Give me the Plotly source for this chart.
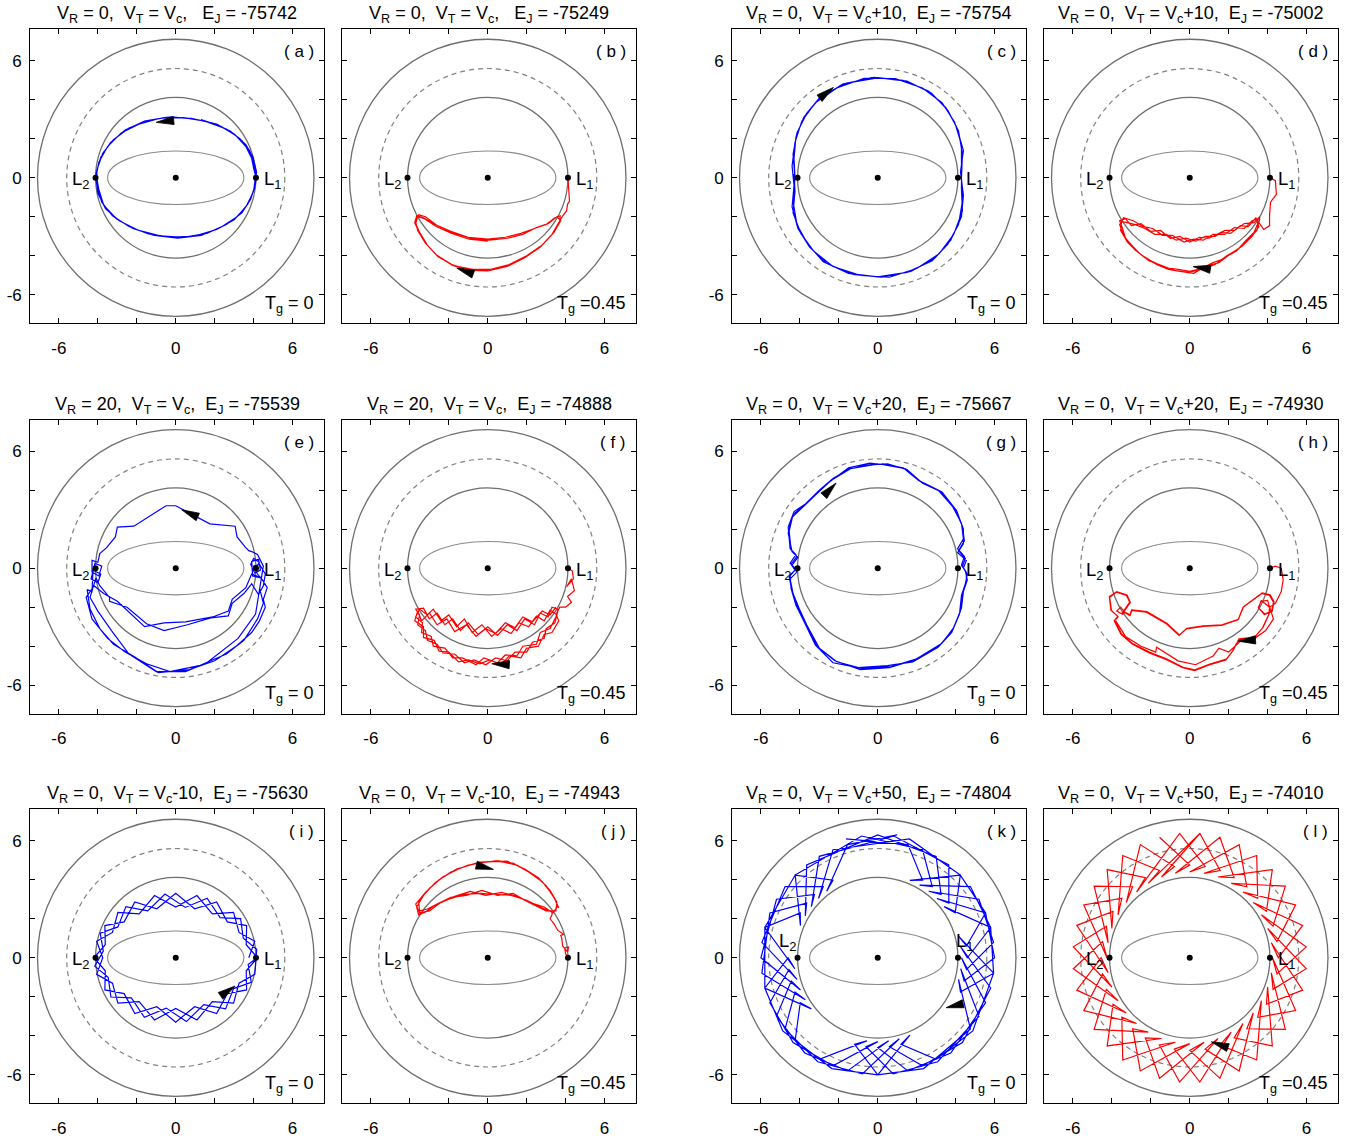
import numpy as np
import plotly.graph_objects as go

FONT = "Liberation Sans, Arial, Helvetica, sans-serif"
PAGE_W, PAGE_H = 1348, 1141

# ---------------- panel meta data ----------------
PANEL_IDS = list("abcdefghijkl")
V_R = ["0", "0", "0", "0", "20", "20", "0", "0", "0", "0", "0", "0"]
V_T = ["", "", "+10", "+10", "", "", "+20", "+20", "-10", "-10", "+50", "+50"]
E_J = ["-75742", "-75249", "-75754", "-75002", "-75539", "-74888",
       "-75667", "-74930", "-75630", "-74943", "-74804", "-74010"]
T_G = ["= 0", "=0.45"] * 6
TRACK_COLOR = ["rgb(0,0,255)", "rgb(255,0,0)"] * 6

MAJOR_TICKS = [-6, 0, 6]
MAJOR_TEXT = ["-6", "0", "6"]
MINOR_TICKS = [-4, -2, 2, 4]

# special points: centre, L1, L2
PT_X = [0.0, 4.12, -4.12]
PT_Y = [0.0, 0.0, 0.0]

# ---------------- trajectories (x, y) ----------------
TRAJ_A = [
    (4.1, 0.0), (4.05, 0.7), (3.8, 1.4), (3.3, 2.0), (2.6, 2.5), (1.5, 2.9), (0.4, 3.08), (-0.8, 3.05),
    (-1.9, 2.75), (-2.8, 2.3), (-3.5, 1.6), (-3.95, 0.8), (-4.1, 0.0), (-4.0, -0.8), (-3.6, -1.6),
    (-2.9, -2.2), (-1.9, -2.7), (-0.8, -2.98), (0.4, -3.05), (1.6, -2.85), (2.6, -2.4), (3.4, -1.8),
    (3.85, -1.1), (4.1, -0.3),
    (4.15, 0.3), (3.95, 1.1), (3.6, 1.7), (3.0, 2.25), (2.1, 2.75), (1.0, 3.0), (-0.2, 3.12), (-1.4, 2.95),
    (-2.4, 2.55), (-3.2, 1.95), (-3.75, 1.25), (-4.05, 0.4), (-4.05, -0.4), (-3.8, -1.25), (-3.25, -1.95),
    (-2.4, -2.5), (-1.4, -2.88), (-0.2, -3.05), (1.0, -2.98), (2.1, -2.65), (3.0, -2.15), (3.6, -1.5),
    (4.0, -0.7), (4.1, 0.1),
    (4.0, 0.5), (3.85, 1.25), (3.4, 1.9), (2.8, 2.4), (1.9, 2.8), (0.8, 3.05), (-0.5, 3.1), (-1.6, 2.9),
    (-2.6, 2.45), (-3.35, 1.8), (-3.85, 1.05), (-4.1, 0.2), (-3.95, -0.6), (-3.7, -1.4), (-3.05, -2.1),
    (-2.2, -2.6), (-1.1, -2.95), (0.1, -3.1), (1.3, -2.95), (2.3, -2.55), (3.15, -2.0), (3.7, -1.35),
    (4.05, -0.55), (4.1, 0.2), (3.95, 0.9), (3.6, 1.6), (3.1, 2.15), (2.3, 2.65), (1.3, 2.98),
]

TRAJ_B = [
    (4.12, 0.0), (4.15, -0.5), (4.2, -1.2), (4.1, -1.35), (4.05, -1.7), (3.85, -1.95),
    (3.65, -2.3), (3.3, -2.9), (2.7, -3.55), (1.9, -4.1), (1.0, -4.55), (0.0, -4.78), (-0.9, -4.75),
    (-1.8, -4.5), (-2.6, -4.0), (-3.15, -3.4), (-3.55, -2.75), (-3.75, -2.3), (-3.65, -1.95),
    (-3.3, -2.05), (-2.7, -2.4), (-1.9, -2.75), (-1.0, -3.05), (0.0, -3.15), (0.9, -3.05), (1.7, -2.85),
    (2.4, -2.6), (3.0, -2.4), (3.45, -2.05), (3.72, -1.95),
    (3.7, -2.25), (3.35, -2.85), (2.75, -3.5), (1.95, -4.05), (1.05, -4.5), (0.05, -4.75), (-0.95, -4.72),
    (-1.85, -4.45), (-2.65, -3.95), (-3.2, -3.35), (-3.6, -2.7), (-3.7, -2.25), (-3.55, -1.9),
    (-3.2, -2.0), (-2.6, -2.45), (-1.8, -2.8), (-0.9, -3.1), (0.1, -3.2), (1.0, -3.1), (1.8, -2.9),
    (2.5, -2.55), (3.1, -2.35), (3.55, -2.0),
    (3.75, -2.2), (3.4, -2.8), (2.8, -3.45), (2.0, -4.0), (1.1, -4.45), (0.1, -4.7), (-0.8, -4.7),
    (-1.75, -4.5), (-2.55, -4.05), (-3.1, -3.45), (-3.5, -2.8), (-3.7, -2.35), (-3.6, -2.0),
    (-3.25, -2.1), (-2.65, -2.5), (-1.85, -2.85), (-0.95, -3.15), (0.0, -3.25),
]

TRAJ_C = [
    (-4.25, 0.0), (-4.35, 1.2), (-4.15, 2.3), (-3.65, 3.3), (-2.9, 4.2), (-1.6, 4.85), (0.0, 5.12),
    (1.5, 4.95), (2.75, 4.35), (3.6, 3.45), (4.15, 2.4), (4.35, 1.2), (4.3, 0.0), (4.35, -1.2),
    (4.15, -2.4), (3.6, -3.4), (2.8, -4.25), (1.5, -4.85), (0.0, -5.08), (-1.5, -4.9), (-2.8, -4.3),
    (-3.6, -3.4), (-4.15, -2.4), (-4.35, -1.2), (-4.25, 0.0),
    (-4.3, 1.0), (-4.2, 2.1), (-3.8, 3.1), (-3.05, 4.0), (-1.8, 4.8), (-0.2, 5.15), (1.3, 5.0),
    (2.6, 4.45), (3.5, 3.6), (4.05, 2.6), (4.4, 1.4), (4.25, 0.3), (4.4, -0.9), (4.3, -2.0),
    (3.75, -3.2), (2.95, -4.1), (1.7, -4.8), (0.2, -5.1), (-1.3, -4.95), (-2.6, -4.4), (-3.5, -3.55),
    (-4.1, -2.6), (-4.4, -1.5), (-4.3, -0.4),
    (-4.4, 0.6), (-4.25, 1.8), (-3.9, 2.9), (-3.2, 3.85), (-2.1, 4.6), (-0.7, 5.1), (0.9, 5.08),
    (2.3, 4.6), (3.3, 3.85), (3.95, 2.85), (4.3, 1.7), (4.3, 0.6), (4.3, -0.6), (4.35, -1.7),
    (3.9, -2.9), (3.15, -3.9), (2.0, -4.65), (0.6, -5.1), (-0.9, -5.0), (-2.3, -4.55), (-3.3, -3.75),
    (-3.95, -2.85), (-4.35, -1.8), (-4.25, -0.7), (-4.3, 0.2),
]

TRAJ_D = [
    (4.12, 0.0), (4.4, -0.15), (4.45, -0.85), (4.15, -1.25), (4.1, -1.9), (4.1, -2.45), (3.8, -2.65),
    (3.55, -2.3), (3.6, -2.1),
    (3.3, -2.8), (2.9, -3.2), (2.4, -3.75), (1.6, -4.2), (1.2, -4.35), (0.6, -4.65), (0.0, -4.8),
    (-0.6, -4.7), (-1.3, -4.6), (-1.9, -4.3), (-2.5, -3.95), (-2.9, -3.55), (-3.3, -3.1), (-3.45, -2.6),
    (-3.6, -2.2), (-3.3, -2.1), (-3.0, -2.45), (-2.5, -2.35), (-2.0, -2.75), (-1.5, -2.7), (-1.0, -3.1),
    (-0.5, -3.0), (0.0, -3.3), (0.5, -3.05), (1.0, -3.1), (1.6, -2.8), (2.1, -2.85), (2.6, -2.45),
    (3.0, -2.5), (3.4, -2.05),
    (3.55, -2.5), (3.2, -3.0), (2.7, -3.5), (2.1, -3.9), (1.5, -4.35), (0.8, -4.55), (0.2, -4.9),
    (-0.5, -4.8), (-1.1, -4.7), (-1.7, -4.45), (-2.3, -4.1), (-2.8, -3.7), (-3.2, -3.3), (-3.55, -2.7),
    (-3.5, -2.25), (-3.2, -2.3), (-2.8, -2.4), (-2.3, -2.6), (-1.8, -2.9), (-1.2, -2.9), (-0.7, -3.2),
    (-0.2, -3.1), (0.3, -3.25), (0.8, -3.0), (1.3, -3.0), (1.8, -2.7), (2.3, -2.7), (2.8, -2.35),
    (3.3, -2.3), (3.6, -2.0),
    (3.45, -2.7), (3.0, -3.15), (2.5, -3.65), (1.9, -4.0), (1.3, -4.45), (0.6, -4.7), (-0.1, -4.85),
    (-0.8, -4.75), (-1.5, -4.5), (-2.1, -4.25), (-2.6, -3.85), (-3.05, -3.4), (-3.4, -2.95),
    (-3.6, -2.4), (-3.4, -2.05), (-2.9, -2.2), (-2.4, -2.5), (-1.9, -2.6), (-1.4, -2.95), (-0.9, -2.95),
    (-0.3, -3.3), (0.2, -3.15), (0.7, -3.2), (1.2, -2.9), (1.8, -2.9), (2.3, -2.55), (2.8, -2.6),
    (3.2, -2.2), (3.5, -2.1),
]

TRAJ_E = [
    (4.1, 0.0), (4.3, 0.3), (4.0, 0.5), (3.85, 0.2), (4.05, -0.25), (4.35, -0.1), (4.25, 0.45),
    (3.9, 0.35), (3.95, -0.4), (4.4, -0.5), (4.5, 0.1), (4.2, 0.7), (3.9, 0.85),
    (3.75, 0.9), (3.55, 1.1), (3.15, 1.6), (3.05, 2.15), (1.75, 2.27), (0.0, 3.2), (-0.5, 3.2),
    (-2.15, 2.15), (-3.0, 2.1), (-3.1, 1.6), (-3.55, 1.05), (-3.9, 0.75), (-4.0, 0.3),
    (-4.3, 0.4), (-4.3, -0.2), (-3.95, -0.4), (-3.8, 0.1), (-4.15, 0.25), (-4.35, -0.55), (-4.0, -0.75),
    (-3.85, -0.3), (-4.25, -0.1), (-4.3, -1.2),
    (-4.55, -1.1), (-4.4, -2.1), (-3.9, -3.1), (-3.2, -3.9), (-2.1, -4.55), (-0.9, -5.35), (0.7, -5.2),
    (2.0, -4.75), (3.1, -4.0), (3.9, -3.3), (4.3, -2.7), (4.6, -2.0), (4.5, -1.6), (4.7, -1.0),
    (4.45, -0.6), (4.2, -0.3), (4.0, 0.1), (4.3, 0.2), (4.6, -0.3), (4.5, -0.9), (4.25, -1.35),
    (3.9, -0.8), (3.5, -1.3), (2.9, -1.8), (2.7, -2.45), (1.8, -2.55), (0.6, -2.9), (-0.6, -3.2),
    (-1.5, -2.85), (-2.5, -2.0), (-3.4, -1.7), (-3.4, -1.5), (-3.9, -0.9), (-4.1, -0.5),
    (-4.4, -1.5), (-4.0, -2.2), (-3.3, -3.2), (-2.4, -4.4), (-1.0, -5.3), (0.5, -5.3), (1.6, -4.85),
    (3.2, -3.6), (4.1, -2.35), (4.3, -1.2), (4.4, -0.5), (3.9, -0.3),
    (3.6, -1.0), (2.9, -1.6), (2.7, -2.2), (1.9, -2.5), (0.5, -2.75), (-0.6, -2.8), (-1.6, -3.0),
    (-3.0, -1.7), (-3.7, -1.3), (-4.2, -0.9), (-4.6, -1.5), (-4.3, -2.6), (-3.5, -3.6), (-2.6, -4.3),
    (-1.5, -4.9), (-0.3, -5.3), (1.2, -5.0), (2.6, -4.4), (3.5, -3.7), (4.2, -2.6), (4.5, -1.8),
    (4.3, -1.0),
]

TRAJ_F = [
    (4.12, 0.0), (4.35, -0.15), (4.4, -0.55), (4.05, -0.95), (4.3, -0.55), (4.45, -1.15), (4.1, -1.45),
    (4.3, -1.75), (4.0, -2.0), (3.7, -2.0),
    (3.6, -2.2), (3.45, -2.8), (3.0, -3.1), (2.9, -3.6), (2.3, -3.8), (2.0, -4.3), (1.4, -4.3),
    (1.0, -4.75), (0.4, -4.6), (-0.1, -4.95), (-0.7, -4.7), (-1.2, -4.85), (-1.7, -4.4), (-2.3, -4.35),
    (-2.6, -3.9), (-3.1, -3.7), (-3.2, -3.2), (-3.6, -2.9), (-3.5, -2.4), (-3.7, -2.1),
    (-3.3, -2.05), (-3.0, -2.6), (-2.6, -2.3), (-2.2, -2.9), (-1.8, -2.6), (-1.4, -3.2), (-1.0, -2.8),
    (-0.5, -3.4), (0.0, -3.0), (0.5, -3.45), (1.0, -2.9), (1.5, -3.2), (1.9, -2.6), (2.4, -2.9),
    (2.7, -2.3), (3.1, -2.5), (3.3, -2.0), (3.6, -2.1),
    (3.5, -2.5), (3.2, -3.1), (2.7, -3.3), (2.5, -3.9), (1.8, -4.0), (1.5, -4.5), (0.9, -4.45),
    (0.5, -4.85), (-0.2, -4.6), (-0.6, -4.95), (-1.3, -4.6), (-1.8, -4.6), (-2.2, -4.1), (-2.8, -4.0),
    (-2.9, -3.5), (-3.4, -3.3), (-3.35, -2.8), (-3.7, -2.5), (-3.5, -2.1),
    (-3.1, -2.4), (-2.8, -2.1), (-2.4, -2.7), (-2.0, -2.4), (-1.6, -3.0), (-1.2, -2.6), (-0.8, -3.3),
    (-0.3, -2.9), (0.2, -3.5), (0.7, -3.1), (1.2, -3.35), (1.6, -2.8), (2.1, -3.0), (2.5, -2.45),
    (2.9, -2.7), (3.2, -2.15), (3.5, -2.35),
    (3.65, -2.7), (3.3, -3.3), (2.9, -3.4), (2.6, -4.0), (2.0, -4.1), (1.7, -4.6), (1.1, -4.5),
    (0.7, -4.95), (0.1, -4.7), (-0.4, -4.9), (-1.0, -4.7), (-1.5, -4.8), (-2.0, -4.3), (-2.5, -4.25),
    (-2.75, -3.7), (-3.3, -3.55), (-3.3, -3.0), (-3.75, -2.7), (-3.6, -2.2),
    (-3.4, -2.7), (-3.0, -2.3), (-2.6, -2.9), (-2.1, -2.6), (-1.7, -3.25), (-1.1, -2.9), (-0.6, -3.5),
    (-0.1, -3.1), (0.4, -3.35), (0.9, -2.8), (1.4, -3.05), (1.8, -2.5), (2.3, -2.75), (2.8, -2.2),
    (3.2, -2.4), (3.5, -2.0),
]

TRAJ_G = [
    (0.0, 5.35), (-1.3, 5.2), (-2.3, 4.6), (-3.0, 4.0), (-3.7, 3.3), (-4.3, 2.9), (-4.6, 2.1), (-4.5, 1.0),
    (-4.2, 0.7), (-4.5, 0.25), (-4.2, -0.05), (-4.5, -0.35), (-4.45, -1.05), (-4.2, -1.9), (-3.85, -2.6),
    (-3.2, -3.95), (-2.3, -4.85), (-1.0, -5.1), (0.5, -5.0), (1.8, -4.8), (3.1, -4.05), (3.8, -3.3),
    (4.2, -2.35), (4.3, -1.4), (4.5, -0.8), (4.6, -0.3), (4.4, 0.0), (4.55, 0.4), (4.1, 0.8), (4.4, 1.25),
    (4.4, 2.0), (4.05, 2.95), (3.3, 3.9), (2.3, 4.35), (1.5, 5.05), (0.5, 5.35),
    (-0.2, 5.3), (-1.4, 5.1), (-2.4, 4.5), (-3.1, 3.85), (-3.8, 3.2), (-4.35, 2.75), (-4.55, 1.9),
    (-4.45, 0.95), (-4.15, 0.6), (-4.45, 0.2), (-4.25, -0.1), (-4.55, -0.45), (-4.4, -1.2), (-4.1, -2.0),
    (-3.75, -2.75), (-3.1, -4.05), (-2.2, -4.75), (-0.9, -5.2), (0.6, -5.1), (1.9, -4.7), (3.2, -3.95),
    (3.85, -3.15), (4.25, -2.2), (4.35, -1.3), (4.55, -0.7), (4.55, -0.2), (4.35, 0.1), (4.5, 0.5),
    (4.15, 0.9), (4.45, 1.4), (4.35, 2.15), (3.95, 3.05), (3.2, 3.95), (2.2, 4.45), (1.4, 5.1), (0.3, 5.3),
    (-0.4, 5.38), (-1.5, 5.15), (-2.5, 4.4), (-3.2, 3.75), (-3.9, 3.1), (-4.4, 2.6), (-4.6, 1.8),
    (-4.4, 0.85), (-4.1, 0.55), (-4.4, 0.15), (-4.15, -0.2), (-4.5, -0.55), (-4.35, -1.3), (-4.0, -2.15),
    (-3.65, -2.9), (-3.0, -4.1), (-2.1, -4.8), (-0.8, -5.15), (0.7, -5.05), (2.0, -4.65), (3.3, -3.85),
    (3.9, -3.05), (4.3, -2.05), (4.4, -1.2), (4.6, -0.6), (4.5, -0.15), (4.3, 0.15), (4.45, 0.6),
    (4.1, 1.0), (4.4, 1.5), (4.3, 2.3), (3.85, 3.15), (3.1, 4.0), (2.1, 4.5), (1.3, 5.15), (0.2, 5.35),
]

TRAJ_H = [
    (4.12, 0.0), (4.4, 0.1), (4.7, 0.0), (4.8, -0.6), (4.7, -1.2), (4.4, -1.8), (4.1, -2.0),
    (4.08, -2.34), (3.77, -3.03), (3.34, -3.54), (2.53, -3.62), (2.4, -3.88), (2.23, -4.22),
    (1.88, -4.66), (1.03, -4.92), (0.26, -5.21), (-0.34, -5.08), (-1.2, -4.65), (-2.05, -4.31),
    (-2.91, -3.88), (-3.5, -3.37), (-3.85, -2.68), (-3.68, -2.5), (-4.02, -2.17), (-4.11, -1.49),
    (-3.77, -1.23), (-3.25, -1.4), (-3.08, -1.74), (-3.5, -2.34), (-3.75, -2.2), (-3.55, -2.0),
    (-3.3, -2.3), (-3.08, -2.43), (-3.0, -2.17), (-2.23, -2.26), (-1.2, -2.85), (-0.55, -3.45),
    (-0.17, -3.11), (0.68, -2.99), (1.63, -2.94), (2.48, -2.65), (2.74, -2.0), (3.42, -1.49),
    (3.7, -1.3), (4.1, -1.4), (4.3, -1.75), (4.2, -2.2), (3.85, -2.35), (3.55, -2.05), (3.65, -1.7),
    (4.0, -1.65), (4.1, -2.0),
    (4.06, -2.38), (3.74, -3.06), (3.3, -3.57), (2.55, -3.66), (2.37, -3.9), (2.2, -4.25),
    (1.86, -4.7), (1.0, -4.96), (0.25, -5.25), (-0.36, -5.1), (-1.22, -4.68), (-2.08, -4.34),
    (-2.94, -3.9), (-3.53, -3.4), (-3.88, -2.7), (-3.7, -2.47), (-4.05, -2.15), (-4.13, -1.46),
    (-3.75, -1.2), (-3.22, -1.38), (-3.05, -1.76), (-3.48, -2.37), (-3.3, -2.27), (-3.05, -2.4),
    (-2.97, -2.14), (-2.2, -2.23), (-1.18, -2.82), (-0.53, -3.42), (-0.15, -3.08), (0.7, -2.96),
    (1.65, -2.91), (2.5, -2.62), (2.77, -1.97), (3.45, -1.46), (3.72, -1.27), (4.13, -1.37),
    (4.33, -1.72), (4.23, -2.23), (3.83, -2.38), (3.52, -2.02), (3.68, -1.67), (4.1, -2.0),
    (4.3, -2.6), (3.9, -3.2), (3.2, -3.7), (2.6, -3.75), (2.0, -4.3), (1.5, -4.1), (1.2, -4.5),
    (0.3, -4.95), (-0.6, -4.75), (-1.7, -4.05), (-1.75, -4.3), (-2.5, -4.0), (-3.3, -3.5),
    (-3.8, -2.7),
]

TRAJ_I = [
    (3.75, 0.0), (4.06, 0.85), (3.25, 1.30), (2.97, 2.33), (1.88, 2.25), (1.09, 3.19), (0.0, 2.6),
    (-1.09, 3.19), (-1.88, 2.25), (-2.97, 2.33), (-3.25, 1.30), (-4.06, 0.85), (-3.75, 0.0),
    (-4.06, -0.85), (-3.25, -1.30), (-2.97, -2.33), (-1.88, -2.25), (-1.09, -3.19), (0.0, -2.6),
    (1.09, -3.19), (1.88, -2.25), (2.97, -2.33), (3.25, -1.30), (4.06, -0.85),
    (4.16, 0.43), (3.47, 1.0), (3.33, 2.01), (2.28, 2.06), (1.61, 3.05), (0.49, 2.58), (-0.55, 3.27),
    (-1.44, 2.40), (-2.56, 2.62), (-2.97, 1.58), (-3.88, 1.26), (-3.72, 0.34), (-4.16, -0.43),
    (-3.47, -1.0), (-3.33, -2.01), (-2.28, -2.06), (-1.61, -3.05), (-0.49, -2.58), (0.55, -3.27),
    (1.44, -2.40), (2.56, -2.62), (2.97, -1.58), (3.88, -1.26), (3.72, -0.34),
    (4.2, 0.0), (3.62, 0.67), (3.64, 1.65), (2.65, 1.84), (2.1, 2.86), (0.97, 2.51), (0.0, 3.3),
    (-0.97, 2.51), (-2.1, 2.86), (-2.65, 1.84), (-3.64, 1.65), (-3.62, 0.67), (-4.2, 0.0),
    (-3.62, -0.67), (-3.64, -1.65), (-2.65, -1.84), (-2.1, -2.86), (-0.97, -2.51), (0.0, -3.3),
    (0.97, -2.51), (2.1, -2.86), (2.65, -1.84), (3.64, -1.65), (3.62, -0.67), (4.2, 0.0),
]

TRAJ_J = [
    (4.12, 0.0), (4.0, 0.2), (3.95, 0.5), (4.15, 0.55), (4.1, 0.3), (3.85, 0.6), (3.8, 1.0), (3.75, 1.15),
    (3.9, 1.2), (3.6, 1.4), (3.4, 1.75), (3.2, 2.0), (3.3, 2.2), (3.3, 2.35),
    (2.8, 2.55), (2.0, 2.95), (1.2, 3.2), (0.4, 3.25), (-0.4, 3.3), (-1.2, 3.25), (-2.0, 3.0),
    (-2.7, 2.7), (-3.2, 2.35), (-3.55, 2.2), (-3.65, 2.6), (-3.3, 3.2), (-2.7, 3.85), (-1.9, 4.4),
    (-1.0, 4.75), (0.0, 4.92), (1.0, 4.95), (1.9, 4.55), (2.6, 4.1), (3.2, 3.45), (3.55, 2.85), (3.5, 2.4),
    (3.0, 2.4), (2.3, 2.75), (1.5, 3.15), (0.7, 3.35), (-0.1, 3.2), (-0.9, 3.4), (-1.7, 3.15),
    (-2.4, 2.85), (-3.0, 2.4), (-3.5, 2.3), (-3.7, 2.75), (-3.2, 3.35), (-2.5, 4.0), (-1.6, 4.55),
    (-0.6, 4.85), (0.4, 4.95), (1.3, 4.85), (2.1, 4.4), (2.8, 3.9), (3.35, 3.2), (3.6, 2.65), (3.35, 2.3),
    (2.9, 2.6), (2.1, 2.85), (1.3, 3.3), (0.5, 3.2), (-0.3, 3.45), (-1.1, 3.2), (-1.9, 3.1),
    (-2.6, 2.75), (-3.1, 2.5), (-3.5, 2.4), (-3.55, 2.9), (-3.0, 3.55), (-2.3, 4.15), (-1.4, 4.6),
    (-0.4, 4.9), (0.6, 4.95), (1.5, 4.75), (2.3, 4.3), (3.0, 3.7), (3.45, 3.0), (3.65, 2.55),
]

TRAJ_K = [
    # revolution 1
    (-1.63, 6.09), (1.55, 5.80), (2.30, 3.98), (1.65, 3.97), (4.24, 4.24), (5.54, 2.30), (4.56, 0.60),
    (4.15, 1.11), (5.95, -0.79), (4.88, -3.75), (3.0, -5.20), (1.19, -4.44), (1.65, -3.97), (0.0, -6.0),
    (-2.36, -5.68), (-4.24, -4.24), (-3.98, -2.30), (-3.41, -2.62), (-5.80, -1.55), (-5.80, 1.55),
    (-3.98, 2.30), (-3.97, 1.65), (-4.24, 4.24),
    # revolution 2
    (-0.83, 6.24), (2.30, 5.54), (2.80, 3.65), (2.15, 3.72), (4.76, 3.65), (5.80, 1.55), (4.6, 0.0),
    (4.26, 0.56), (5.80, -1.55), (4.35, -4.35), (2.30, -5.54), (0.60, -4.56), (1.11, -4.15),
    (-0.79, -5.95), (-3.08, -5.33), (-4.76, -3.65), (-4.25, -1.76), (-3.72, -2.15), (-5.95, -0.79),
    (-5.54, 2.30), (-3.65, 2.80), (-3.72, 2.15), (-3.65, 4.76),
    # revolution 3
    (0.0, 6.3), (3.0, 5.20), (3.25, 3.25), (2.62, 3.41), (5.20, 3.0), (5.95, 0.79), (4.56, -0.60),
    (4.3, 0.0), (5.54, -2.30), (3.75, -4.88), (1.55, -5.80), (0.0, -4.6), (0.56, -4.26), (-1.55, -5.80),
    (-3.75, -4.88), (-5.20, -3.0), (-4.44, -1.19), (-3.97, -1.65), (-6.0, 0.0), (-5.20, 3.0),
    (-3.25, 3.25), (-3.41, 2.62), (-3.0, 5.20),
    # revolution 4
    (0.83, 6.24), (3.65, 4.76), (3.65, 2.80), (3.04, 3.04), (5.54, 2.30), (6.0, 0.0), (4.44, -1.19),
    (4.26, -0.56), (5.20, -3.0), (3.08, -5.33), (0.79, -5.95), (-0.60, -4.56), (0.0, -4.3),
    (-2.30, -5.54), (-4.35, -4.35), (-5.54, -2.30), (-4.56, -0.60), (-4.15, -1.11), (-5.95, 0.79),
    (-4.76, 3.65), (-2.80, 3.65), (-3.04, 3.04), (-2.30, 5.54),
    # revolution 5
    (1.63, 6.09), (4.24, 4.24), (3.98, 2.30), (3.41, 2.62), (5.80, 1.55), (5.95, -0.79), (4.25, -1.76),
    (4.15, -1.11), (4.76, -3.65), (2.36, -5.68), (0.0, -6.0), (-1.19, -4.44), (-0.56, -4.26),
    (-3.0, -5.20), (-4.88, -3.75), (-5.80, -1.55), (-4.6, 0.0), (-4.26, -0.56), (-5.80, 1.55),
    (-4.24, 4.24), (-2.30, 3.98), (-2.62, 3.41), (-1.55, 5.80), (1.0, 6.3),
]

TRAJ_L = [
    # revolution 1
    (-1.55, 6.18),
    (0.0, 4.75), (-0.74, 4.33), (1.55, 6.18), (2.28, 4.11), (1.45, 4.14), (4.24, 4.52),
    (3.94, 2.38), (3.26, 2.83), (5.80, 1.66), (4.55, 0.0), (4.19, 0.77), (5.80, -1.66),
    (3.94, -2.38), (4.0, -1.50), (4.24, -4.52), (2.28, -4.11), (2.73, -3.37), (1.55, -6.18),
    (0.0, -4.75), (0.74, -4.33), (-1.55, -6.18), (-2.28, -4.11), (-1.45, -4.14), (-4.24, -4.52),
    (-3.94, -2.38), (-3.26, -2.83), (-5.80, -1.66), (-4.55, 0.0), (-4.19, -0.77), (-5.80, 1.66),
    (-3.94, 2.38), (-4.0, 1.50), (-4.24, 4.52), (-2.28, 4.11), (-2.73, 3.37), (-0.52, 6.37),
    # revolution 2
    (0.79, 4.68), (0.0, 4.4), (2.54, 5.80), (2.93, 3.64), (2.13, 3.81), (4.91, 3.67),
    (4.28, 1.62), (3.68, 2.2), (5.98, 0.56), (4.48, -0.83), (4.25, 0.0), (5.44, -2.71),
    (3.49, -3.05), (3.68, -2.2), (3.44, -5.24), (1.56, -4.47), (2.13, -3.81), (0.52, -6.37),
    (-0.79, -4.68), (0.0, -4.4), (-2.54, -5.80), (-2.93, -3.64), (-2.13, -3.81), (-4.91, -3.67),
    (-4.28, -1.62), (-3.68, -2.2), (-5.98, -0.56), (-4.48, 0.83), (-4.25, 0.0), (-5.44, 2.71),
    (-3.49, 3.05), (-3.68, 2.2), (-3.44, 5.24), (-1.56, 4.47), (-2.13, 3.81), (0.52, 6.37),
    # revolution 3
    (1.56, 4.47), (0.74, 4.33), (3.44, 5.24), (3.49, 3.05), (2.73, 3.37), (5.44, 2.71),
    (4.48, 0.83), (4.0, 1.50), (5.98, -0.56), (4.28, -1.62), (4.19, -0.77), (4.91, -3.67),
    (2.93, -3.64), (3.26, -2.83), (2.54, -5.80), (0.79, -4.68), (1.45, -4.14), (-0.52, -6.37),
    (-1.56, -4.47), (-0.74, -4.33), (-3.44, -5.24), (-3.49, -3.05), (-2.73, -3.37), (-5.44, -2.71),
    (-4.48, -0.83), (-4.0, -1.50), (-5.98, 0.56), (-4.28, 1.62), (-4.19, 0.77), (-4.91, 3.67),
    (-2.93, 3.64), (-3.26, 2.83), (-2.54, 5.80), (-0.79, 4.68), (-1.45, 4.14), (0.52, 6.37),
]

TRAJS = [TRAJ_A, TRAJ_B, TRAJ_C, TRAJ_D, TRAJ_E, TRAJ_F,
         TRAJ_G, TRAJ_H, TRAJ_I, TRAJ_J, TRAJ_K, TRAJ_L]

# direction arrows: tip position and heading (degrees from +x)
ARROW_X = [-1.0, -1.59, -2.28, 0.17, 0.31, 0.21, -2.14, 2.48, 3.05, 0.29, 3.51, 1.11]
ARROW_Y = [2.84, -4.63, 4.63, -4.55, 2.99, -4.9, 4.36, -3.74, -1.45, 4.53, -2.56, -4.31]
ARROW_DIR = [186, 160, 38, 171, 156, 177, 46, 184, 34, -14, 193, 161]

# ---------------- geometry / layout constants ----------------
R_OUTER, R_DASH, R_INNER = 7.1, 5.6, 4.12
ELL_A, ELL_B = 3.5, 1.37
X_RANGE = [-7.47, 7.63]
Y_RANGE = [-7.46, 7.61]
COL_PX = [(30.3, 324.3), (342.3, 636.3), (732.3, 1026.3), (1044.3, 1338.3)]
ROW_PX = [(29.3, 323.3), (419.7, 713.7), (809.3, 1103.3)]
ARROW_LEN, ARROW_HW = 0.9, 0.21
FS_TICK, FS_TITLE, FS_LAB, FS_PANEL, FS_TG = 17, 18, 18.5, 17, 18

fig = go.Figure()
shapes, annotations = [], []
layout_axes = {}

for idx, pid in enumerate(PANEL_IDS):
    row, col = divmod(idx, 4)
    n = idx + 1
    xs = "" if n == 1 else str(n)
    xref, yref = "x" + xs, "y" + xs
    x0p, x1p = COL_PX[col]
    y0p, y1p = ROW_PX[row]
    xdom = [x0p / PAGE_W, x1p / PAGE_W]
    ydom = [1 - y1p / PAGE_H, 1 - y0p / PAGE_H]
    show_y = col in (0, 2)

    common = dict(ticks="inside", ticklen=5, tickwidth=1, tickcolor="black", showline=True,
                  linecolor="black", linewidth=1.2, mirror="ticks", showgrid=False, zeroline=False,
                  tickmode="array", tickvals=MAJOR_TICKS, ticktext=MAJOR_TEXT,
                  minor=dict(tickmode="array", tickvals=MINOR_TICKS, ticks="inside", ticklen=5,
                             tickwidth=1, tickcolor="black", showgrid=False),
                  tickfont=dict(family=FONT, size=FS_TICK, color="black"))
    layout_axes["xaxis" + xs] = dict(domain=xdom, range=X_RANGE, anchor=yref,
                                     ticklabelstandoff=9, **common)
    layout_axes["yaxis" + xs] = dict(domain=ydom, range=Y_RANGE, anchor=xref,
                                     showticklabels=show_y, ticklabelstandoff=4, **common)

    # reference curves
    for r, dash, w, c in [(R_OUTER, "solid", 1.3, "#6e6e6e"), (R_DASH, "5px,4px", 1.2, "#808080"),
                          (R_INNER, "solid", 1.3, "#6e6e6e")]:
        shapes.append(dict(type="circle", xref=xref, yref=yref, x0=-r, x1=r, y0=-r, y1=r,
                           line=dict(color=c, width=w, dash=dash), layer="below"))
    shapes.append(dict(type="circle", xref=xref, yref=yref, x0=-ELL_A, x1=ELL_A, y0=-ELL_B, y1=ELL_B,
                       line=dict(color="#8a8a8a", width=1.1), layer="below"))

    tx, ty = zip(*TRAJS[idx])
    fig.add_trace(go.Scatter(x=tx, y=ty, mode="lines", xaxis=xref, yaxis=yref,
                             line=dict(color=TRACK_COLOR[idx], width=1.2), hoverinfo="skip",
                             showlegend=False))
    fig.add_trace(go.Scatter(x=PT_X, y=PT_Y, mode="markers", xaxis=xref, yaxis=yref,
                             marker=dict(color="black", size=6), hoverinfo="skip", showlegend=False))

    # arrow head (filled triangle) from tip + heading
    th = np.deg2rad(ARROW_DIR[idx])
    tip = np.array([ARROW_X[idx], ARROW_Y[idx]])
    d = np.array([np.cos(th), np.sin(th)])
    nrm = np.array([-d[1], d[0]])
    base = tip - ARROW_LEN * d
    tri = np.array([tip, base + ARROW_HW * nrm, base - ARROW_HW * nrm, tip])
    fig.add_trace(go.Scatter(x=tri[:, 0], y=tri[:, 1], mode="lines", fill="toself",
                             fillcolor="black", line=dict(color="black", width=0.8),
                             xaxis=xref, yaxis=yref, hoverinfo="skip", showlegend=False))

    # texts
    vt = "V<sub>c</sub>" + V_T[idx]
    sep = ",   " if V_T[idx] == "" and V_R[idx] == "0" else ",  "
    title = f"V<sub>R</sub> = {V_R[idx]},  V<sub>T</sub> = {vt}{sep}E<sub>J</sub> = {E_J[idx]}"
    annotations.append(dict(text=title, xref="paper", yref="paper", x=(xdom[0] + xdom[1]) / 2,
                            y=ydom[1], xanchor="center", yanchor="bottom", yshift=1, showarrow=False,
                            font=dict(family=FONT, size=FS_TITLE, color="black")))
    annotations.append(dict(text=f"( {pid} )", xref=xref, yref=yref, x=7.2, y=6.45,
                            xanchor="right", yanchor="middle", showarrow=False,
                            font=dict(family=FONT, size=FS_PANEL, color="black")))
    annotations.append(dict(text=f"T<sub>g</sub> {T_G[idx]}", xref=xref, yref=yref, x=7.22, y=-6.5,
                            xanchor="right", yanchor="middle", showarrow=False,
                            font=dict(family=FONT, size=FS_TG, color="black")))
    if pid == "k":
        l1 = dict(x=4.5, y=0.8, xanchor="center")
        l2 = dict(x=-4.6, y=0.8, xanchor="center")
    else:
        l1 = dict(x=4.42, y=-0.12, xanchor="left")
        l2 = dict(x=-4.3, y=-0.12, xanchor="right")
    annotations.append(dict(text="L<sub>1</sub>", xref=xref, yref=yref, yanchor="middle",
                            showarrow=False, font=dict(family=FONT, size=FS_LAB, color="black"), **l1))
    annotations.append(dict(text="L<sub>2</sub>", xref=xref, yref=yref, yanchor="middle",
                            showarrow=False, font=dict(family=FONT, size=FS_LAB, color="black"), **l2))

fig.update_layout(
    width=PAGE_W, height=PAGE_H, margin=dict(l=0, r=0, t=0, b=0),
    paper_bgcolor="white", plot_bgcolor="white", showlegend=False,
    font=dict(family=FONT, size=FS_TICK, color="black"),
    shapes=shapes, annotations=annotations, **layout_axes)

fig.write_html("out.html")
